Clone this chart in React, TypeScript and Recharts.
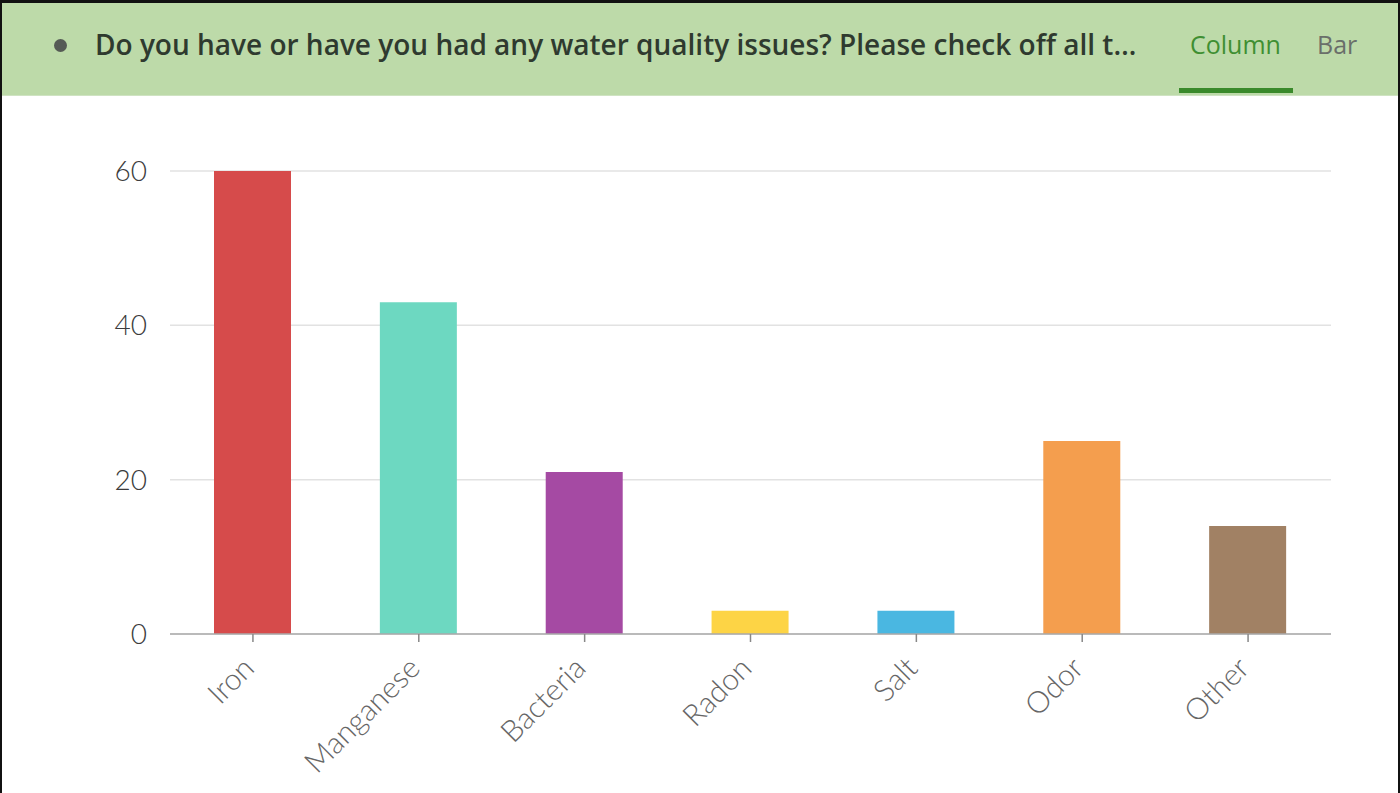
import { BarChart, Bar, XAxis, YAxis, CartesianGrid, Cell } from "recharts";

const categories = ["Iron", "Manganese", "Bacteria", "Radon", "Salt", "Odor", "Other"];
const responses = [60, 43, 21, 3, 3, 25, 14];
const barColors = ["#d64b4b", "#6dd8c1", "#a54aa3", "#fdd445", "#4ab7e1", "#f49e4e", "#a18164"];
const yTicks = [0, 20, 40, 60];

const TITLE = "Do you have or have you had any water quality issues? Please check off all t\u2026";

const data = categories.map((name, i) => ({ name, count: responses[i] }));

const FONT = "Lato, 'Open Sans', sans-serif";

function XTick({ x, y, payload }: { x?: number; y?: number; payload?: { value: string } }) {
  return (
    <g transform={`translate(${(x ?? 0) + 3},${(y ?? 0) + 26})`}>
      <text
        x={0}
        y={0}
        textAnchor="end"
        transform="rotate(-45)"
        fill="#666"
        fontSize={30}
        fontWeight={300}
        fontFamily={FONT}
      >
        {payload?.value}
      </text>
    </g>
  );
}

export default function App() {
  return (
    <div style={{ position: "relative", width: 1400, height: 793, overflow: "hidden", background: "#fff" }}>
      <style>{"body{margin:0}"}</style>
      {/* header strip */}
      <div
        style={{
          position: "absolute",
          top: 0,
          left: 0,
          width: 1400,
          height: 95,
          background: "#bddaa9",
          borderBottom: "1px solid #cfe3c2",
        }}
      />
      <div
        style={{
          position: "absolute",
          left: 54,
          top: 39,
          width: 13,
          height: 13,
          borderRadius: "50%",
          background: "#555a55",
        }}
      />
      <div
        style={{
          position: "absolute",
          left: 95,
          top: 25,
          fontFamily: "'Open Sans', sans-serif",
          fontWeight: 600,
          fontSize: 28,
          lineHeight: "38px",
          color: "#2f3a2f",
          whiteSpace: "nowrap",
        }}
      >
        {TITLE}
      </div>
      <div
        style={{
          position: "absolute",
          left: 1190,
          top: 27,
          fontFamily: "'Open Sans', sans-serif",
          fontWeight: 400,
          fontSize: 25,
          lineHeight: "34px",
          color: "#3f8f32",
        }}
      >
        Column
      </div>
      <div style={{ position: "absolute", left: 1179, top: 88, width: 114, height: 5, background: "#3a8a2b" }} />
      <div
        style={{
          position: "absolute",
          left: 1317,
          top: 27,
          fontFamily: "'Open Sans', sans-serif",
          fontWeight: 400,
          fontSize: 25,
          lineHeight: "34px",
          color: "#6a6f6a",
        }}
      >
        Bar
      </div>

      <div style={{ position: "absolute", top: 95, left: 0 }}>
        <BarChart width={1400} height={698} data={data} margin={{ top: 76, right: 69, left: 0, bottom: 0 }}>
          <CartesianGrid vertical={false} stroke="#e2e2e2" strokeWidth={1.5} />
          <XAxis
            dataKey="name"
            height={159}
            interval={0}
            tick={<XTick />}
            tickLine={{ stroke: "#888", strokeWidth: 1.5 }}
            tickSize={8}
            axisLine={{ stroke: "#aaa", strokeWidth: 1.5 }}
          />
          <YAxis
            width={170}
            domain={[0, 60]}
            ticks={yTicks}
            axisLine={false}
            tickLine={false}
            tickSize={0}
            tickMargin={23}
            tick={{ fill: "#3c3c3c", fontSize: 28, fontWeight: 300, fontFamily: FONT }}
          />
          <Bar dataKey="count" barSize={77} isAnimationActive={false}>
            {data.map((d, i) => (
              <Cell key={d.name} fill={barColors[i]} />
            ))}
          </Bar>
        </BarChart>
      </div>

      {/* outer frame */}
      <div style={{ position: "absolute", top: 0, left: 0, width: 1400, height: 3, background: "#111" }} />
      <div style={{ position: "absolute", top: 0, left: 0, width: 2, height: 793, background: "#111" }} />
      <div style={{ position: "absolute", top: 0, right: 0, width: 2, height: 793, background: "#111" }} />
    </div>
  );
}
